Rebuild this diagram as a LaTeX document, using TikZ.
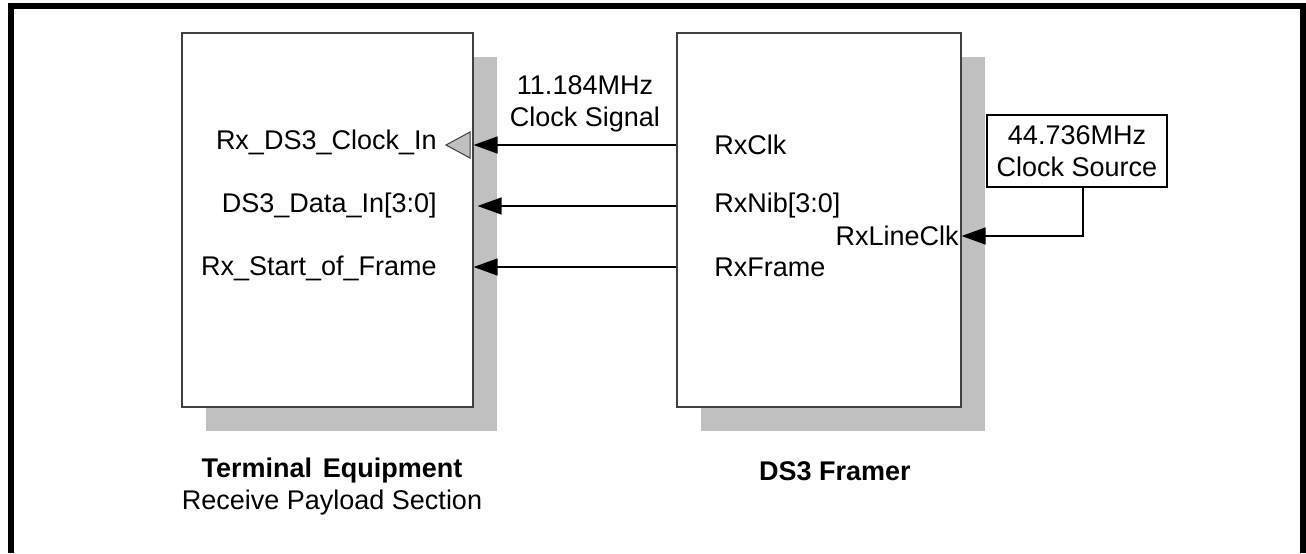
\documentclass[tikz,border=0pt]{standalone}
\usepackage{fontspec}
\setmainfont{Liberation Sans}
\usetikzlibrary{arrows.meta,shadows,positioning,calc}
\definecolor{shadowgray}{HTML}{C0C0C0}
\definecolor{edgegray}{HTML}{404040}
\tikzset{
  block/.style={draw=edgegray, line width=0.6pt, fill=white, minimum width=#1, minimum height=187pt, inner sep=0pt,
    drop shadow={shadow xshift=12pt, shadow yshift=-12pt, fill=shadowgray, opacity=1}},
  sig/.style={-{Triangle[length=12pt,width=8.5pt]}, line width=0.75pt},
  pin/.style={inner sep=0pt, font=\fontsize{13.5}{16}\selectfont},
  title/.style={inner sep=0pt, font=\fontsize{13.5}{16}\selectfont\bfseries},
}

\begin{document}
\begin{tikzpicture}[x=0.5pt, y=-0.5pt]
\useasboundingbox (0,0) rectangle (1306,553);

\draw[line width=3pt] (11,553) -- (11,6) -- (1303,6) -- (1303,553);

\node[block=145.5pt] (te) at (327.5,220) {};
\node[block=142pt] (fr) at (819,220) {};

\node[pin, anchor=east] (clkin) at (437,142) {Rx\_DS3\_Clock\_In};
\node[pin, anchor=east] (datain) at (437,206) {DS3\_Data\_In[3:0]};
\node[pin, anchor=east] (sof) at (437,268) {Rx\_Start\_of\_Frame};
\draw[edgegray, fill=shadowgray, line width=0.5pt] (446,145) -- (470,132) -- (470,158) -- cycle;

\node[pin, anchor=west] (rxclk) at (714,145) {RxClk};
\node[pin, anchor=west] (rxnib) at (714,206) {RxNib[3:0]};
\node[pin, anchor=west] (rxframe) at (714,267) {RxFrame};
\node[pin, anchor=east] (lineclk) at (959,236) {RxLineClk};

\draw[sig] (rxclk.west -| fr.west) -- (rxclk.west -| te.east);
\draw[sig, shorten >=2pt] (rxnib.west -| fr.west) -- (rxnib.west -| te.east);
\draw[sig] (rxframe.west -| fr.west) -- (rxframe.west -| te.east);

\node[pin, align=center] (clksig) at (585,104) {11.184MHz\\Clock Signal};

\node[pin, draw, line width=0.6pt, minimum width=90pt, minimum height=36pt, align=center] (csrc) at (1077,151) {44.736MHz\\Clock Source};
\draw[sig] ([xshift=3pt]csrc.south) |- (lineclk.east -| fr.east);

\node[title] (tename) at (332,471) {Terminal\hspace{0.4em}Equipment};
\node[pin] (tesub) at (332,503) {Receive Payload Section};
\node[title] (frname) at (835,471) {DS3 Framer};
\end{tikzpicture}
\end{document}
